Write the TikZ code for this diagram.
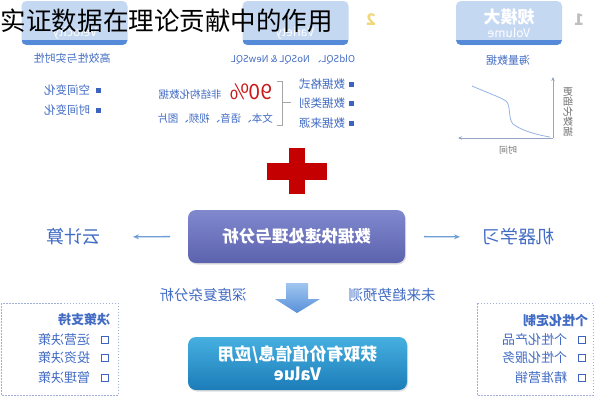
\documentclass[tikz,border=0pt]{standalone}
\usepackage{fontspec}
\setmainfont{Noto Sans CJK SC}
\usepackage{graphicx}
\usetikzlibrary{arrows.meta,shadows}
\definecolor{txtblue}{RGB}{66,108,196}
\definecolor{bulblue}{RGB}{60,100,190}
\definecolor{boxlight}{RGB}{197,216,242}
\definecolor{boxstrip}{RGB}{84,138,216}
\definecolor{arrblue}{RGB}{110,158,214}
\definecolor{crossred}{RGB}{196,0,0}
\definecolor{dashc}{RGB}{160,176,212}
\definecolor{axisc}{RGB}{150,165,195}
\definecolor{curvec}{RGB}{150,180,226}
\definecolor{proctop}{RGB}{128,136,206}
\definecolor{procbot}{RGB}{92,99,174}
\definecolor{valtop}{RGB}{70,176,224}
\definecolor{valbot}{RGB}{28,124,184}
\definecolor{dtop}{RGB}{160,198,240}
\definecolor{dbot}{RGB}{88,144,218}
\definecolor{numyel}{RGB}{240,215,120}
\newcommand{\myflip}[1]{\reflectbox{#1}}
\newcommand{\fsz}[1]{\fontsize{#1}{#1}\selectfont}
\begin{document}
\begin{tikzpicture}[x=1pt,y=-1pt,
  every node/.style={inner sep=0pt, outer sep=0pt},
  topbox/.style={minimum width=106pt, minimum height=44pt, fill=boxlight, rounded corners=5pt},
  boxtitle/.style={text=white, font=\bfseries\fsz{17}},
  boxsub/.style={text=white, font=\fsz{12}},
  subtxt/.style={text=txtblue, font=\fsz{11}},
  item/.style={text=txtblue, font=\fsz{11.5}, anchor=east},
  bullet/.style={fill=bulblue, minimum size=5pt},
  hbullet/.style={draw=bulblue, line width=1.4pt, minimum size=7pt},
  bigtxt/.style={text=txtblue, font=\fsz{18}},
  midtxt/.style={text=txtblue, font=\fsz{14.5}},
  arr/.style={draw=arrblue, line width=1.3pt, -{Stealth[length=6pt,width=5pt]}},
  dashbox/.style={draw=dashc, dash pattern=on 1.5pt off 1.5pt, line width=0.8pt},
  sidehead/.style={text=txtblue, font=\bfseries\fsz{13}, anchor=east},
  sideitem/.style={text=txtblue, font=\fsz{13}, anchor=east}
]
\useasboundingbox (0,0) rectangle (596,400);
\fill[white] (0,0) rectangle (596,400);

% ---------- top boxes ----------
\node[topbox] (vol) at (509,23) {};
\node[topbox] (var) at (295.5,23) {};
\node[topbox] (vel) at (74.5,23) {};
\foreach \b in {vol,var,vel}{
  \begin{scope}
    \clip[rounded corners=5pt] (\b.south west) rectangle (\b.north east);
    \fill[boxstrip] (\b.south west) rectangle ([yshift=5pt]\b.south east);
  \end{scope}
}
\node[boxtitle] (voltitle) at (509,17) {\myflip{规模大}};
\node[boxsub] (volsub) at (509,33) {\myflip{Volume}};
\node[boxsub] (varsub) at (295,33) {\myflip{Variety}};
\node[boxsub] (velsub) at (75,33) {\myflip{Velocity}};
\node[text=black!25, font=\bfseries\fsz{16}] (n1) at (579,20) {\myflip{1}};
\node[text=numyel, font=\bfseries\fsz{16}] (n2) at (371,20) {\myflip{2}};

\node[subtxt] (s1) at (508,60) {\myflip{海量数据}};
\node[text=txtblue, font=\fsz{9.5}] (s2) at (293,60) {\myflip{OldSQL、 NoSQL \& NewSQL}};
\node[subtxt] (s3) at (72,58) {\myflip{高效性与实时性}};

% ---------- left column ----------
\node[item] (t1) at (90,90) {\myflip{空间变化}};
\node[bullet] (b1) at (98,90) {};
\node[item] (t2) at (90,110) {\myflip{时间变化}};
\node[bullet] (b2) at (98,110) {};

% ---------- middle column ----------
\node[item] (m1) at (345,84) {\myflip{数据格式}};
\node[bullet] (mb1) at (351,84) {};
\node[item] (m2) at (345,103) {\myflip{数据类别}};
\node[bullet] (mb2) at (351,103) {};
\node[item] (m3) at (345,123) {\myflip{数据来源}};
\node[bullet] (mb3) at (351,123) {};
\draw[black!35, line width=0.8pt] (277,81) -- (282,81) -- (282,125) -- (277,125);
\draw[black!35, line width=0.8pt] (282,102) -- (291,102);
\node[text=crossred!90!white, font=\fsz{21}] (pct) at (251,92) {\myflip{90\%}};
\node[text=txtblue, font=\fsz{10.5}] (unst) at (190,95) {\myflip{非结构化数据}};
\node[text=txtblue, font=\fsz{10.5}] (kinds) at (215,118) {\myflip{文本、语音、视频、图片}};

% ---------- chart ----------
\coordinate (origin) at (553,138);
\coordinate (ytop) at (553,77);
\coordinate (xend) at (458,138);
\draw[axisc, line width=0.7pt, -{Stealth[length=4pt,width=3.5pt]}] (origin) -- (ytop);
\draw[axisc, line width=0.7pt, -{Stealth[length=4pt,width=3.5pt]}] (origin) -- (xend);
\draw[curvec, line width=0.8pt] (472,86) .. controls (488,93) and (500,97) .. (506,101)
   .. controls (511,105) and (508,119) .. (513,124)
   .. controls (522,131) and (538,135) .. (550,137);
\node[text=black!55, font=\fsz{10}, align=center] (ylab) at (568,112)
   {\myflip{更}\\\myflip{细}\\\myflip{化}\\\myflip{数}\\\myflip{据}};
\node[text=black!55, font=\fsz{9}] (xlab) at (508,150) {\myflip{时间}};

% ---------- red cross ----------
\fill[crossred] (267,163) rectangle (327,180);
\fill[crossred] (289,148) rectangle (305,194);

% ---------- process box ----------
\node[minimum width=217pt, minimum height=53pt, rounded corners=8pt,
      top color=proctop, bottom color=procbot,
      drop shadow={opacity=0.25, shadow xshift=1pt, shadow yshift=-1.5pt},
      text=white, font=\bfseries\fsz{16.5}] (proc) at (296.5,236.5) {\myflip{数据快速处理与分析}};
\node[bigtxt, anchor=east] (cloud) at (100,237) {\myflip{云计算}};
\node[bigtxt, anchor=west] (ml) at (482,237) {\myflip{机器学习}};
\draw[arr, shorten <=18pt, shorten >=33pt] (proc.west) -- (cloud.east);
\draw[arr, shorten <=19pt, shorten >=22pt] (proc.east) -- (ml.west);

% ---------- down arrow ----------
\shade[top color=dtop, bottom color=dbot]
  (286,283) -- (308,283) -- (308,299) -- (320,299) -- (297,313) -- (275,299) -- (286,299) -- cycle;
\node[midtxt] (deep) at (203,295) {\myflip{深度复杂分析}};
\node[midtxt] (future) at (392,295) {\myflip{未来趋势预测}};

% ---------- value box ----------
\node[minimum width=219pt, minimum height=53pt, rounded corners=8pt, align=center,
      top color=valtop, bottom color=valbot,
      drop shadow={opacity=0.25, shadow xshift=1pt, shadow yshift=-1.5pt},
      text=white, font=\bfseries\fontsize{17}{20}\selectfont] (val) at (297.5,363.5)
      {\myflip{获取有价值信息/应用}\\\myflip{Value}};

% ---------- side boxes ----------
\draw[dashbox] (1,303) rectangle (118,395);
\node[sidehead] (dh) at (110,320) {\myflip{决策支持}};
\node[sideitem] (d1) at (90,340) {\myflip{运营决策}};
\node[hbullet] (db1) at (105,340) {};
\node[sideitem] (d2) at (90,358) {\myflip{投资决策}};
\node[hbullet] (db2) at (105,358) {};
\node[sideitem] (d3) at (90,378) {\myflip{管理决策}};
\node[hbullet] (db3) at (105,378) {};

\draw[dashbox] (477,303) rectangle (593,395);
\node[sidehead] (ph) at (588,320) {\myflip{个性化定制}};
\node[sideitem] (p1) at (567,340) {\myflip{个性化产品}};
\node[hbullet] (pb1) at (582,340) {};
\node[sideitem] (p2) at (567,358) {\myflip{个性化服务}};
\node[hbullet] (pb2) at (582,358) {};
\node[sideitem] (p3) at (567,378) {\myflip{精准营销}};
\node[hbullet] (pb3) at (582,378) {};

% ---------- title ----------
\node[anchor=west, text=black, font=\fsz{25.5}] (title) at (1,21) {实证数据在理论贡献中的作用};
\end{tikzpicture}
\end{document}
